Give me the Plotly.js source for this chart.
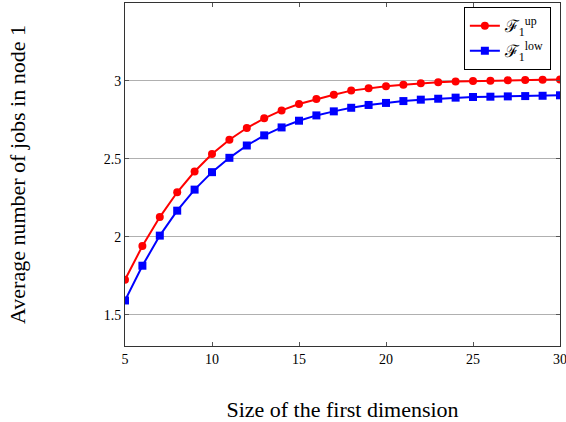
<!DOCTYPE html>
<html>
<head>
<meta charset="utf-8">
<script src="https://cdn.plot.ly/plotly-3.0.1.min.js"></script>
<style>
  html, body { margin: 0; padding: 0; background: #fff; }
  #chart { width: 566px; height: 422px; }
</style>
</head>
<body>
<div id="chart"></div>
<script>
// Size of the first dimension
const sizes = [5, 6, 7, 8, 9, 10, 11, 12, 13, 14, 15, 16, 17, 18, 19, 20, 21, 22, 23, 24, 25, 26, 27, 28, 29, 30];

// Upper bound on the mean number of jobs in node 1
const upperBound = [1.725, 1.941, 2.127, 2.286, 2.419, 2.531, 2.623, 2.698, 2.760, 2.811, 2.852, 2.884,
  2.912, 2.938, 2.953, 2.966, 2.976, 2.985, 2.991, 2.996, 2.999, 3.002, 3.004, 3.006, 3.008, 3.009];

// Lower bound on the mean number of jobs in node 1
const lowerBound = [1.592, 1.815, 2.008, 2.168, 2.303, 2.415, 2.507, 2.586, 2.651, 2.702, 2.745, 2.779,
  2.805, 2.828, 2.846, 2.859, 2.871, 2.880, 2.886, 2.893, 2.897, 2.899, 2.901, 2.903, 2.905, 2.908];

const xTicks = [5, 10, 15, 20, 25, 30];
const yTicks = [1.5, 2, 2.5, 3];
const yTickText = ['1.5', '2', '2.5', '3'];

const serif = 'Liberation Serif, DejaVu Serif, serif';

const traces = [
  {
    x: sizes, y: upperBound, name: 'ℱ<sub>1</sub><sup>up</sup>',
    mode: 'lines+markers', type: 'scatter',
    line: { color: '#ff0000', width: 2 },
    marker: { color: '#ff0000', symbol: 'circle', size: 8 }
  },
  {
    x: sizes, y: lowerBound, name: 'ℱ<sub>1</sub><sup>low</sup>',
    mode: 'lines+markers', type: 'scatter',
    line: { color: '#0000ff', width: 2 },
    marker: { color: '#0000ff', symbol: 'square', size: 8 }
  }
];

const layout = {
  width: 566, height: 422,
  margin: { l: 125, r: 6, t: 3, b: 76 },
  paper_bgcolor: '#fff', plot_bgcolor: '#fff',
  font: { family: serif, color: '#000', size: 14 },
  showlegend: true,
  legend: {
    x: 0.979, xanchor: 'right', y: 0.988, yanchor: 'top',
    bordercolor: '#000', borderwidth: 1, bgcolor: '#fff',
    font: { family: serif, size: 17 },
    tracegroupgap: 0, itemwidth: 30
  },
  xaxis: {
    range: [5, 30], tickvals: xTicks, ticktext: xTicks.map(String),
    ticks: 'inside', ticklen: 4, tickcolor: '#555', showgrid: false,
    ticklabeloverflow: 'allow',
    showline: true, linecolor: '#333', linewidth: 1, mirror: 'ticks',
    zeroline: false,
    title: { text: 'Size of the first dimension', font: { family: serif, size: 22 }, standoff: 36 }
  },
  yaxis: {
    range: [1.3, 3.5], tickvals: yTicks, ticktext: yTickText,
    ticks: 'inside', ticklen: 4, tickcolor: '#555',
    showgrid: true, gridcolor: '#b0b0b0', gridwidth: 1,
    showline: true, linecolor: '#333', linewidth: 1, mirror: 'ticks',
    zeroline: false,
    title: { text: 'Average number of jobs in node 1', font: { family: serif, size: 22 }, standoff: 72 }
  }
};

Plotly.newPlot('chart', traces, layout, { displayModeBar: false, staticPlot: true });
</script>
</body>
</html>
